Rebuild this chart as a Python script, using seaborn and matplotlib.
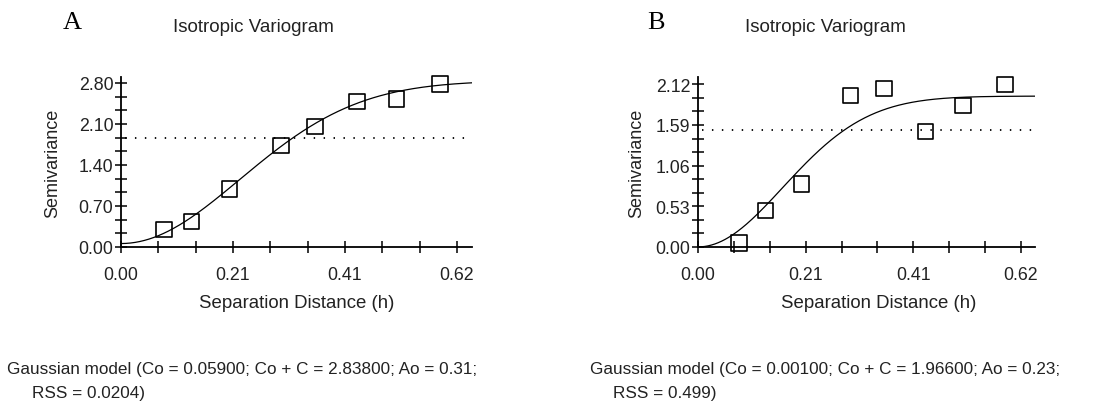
import matplotlib
matplotlib.use("Agg")
import matplotlib.pyplot as plt
import numpy as np
import pandas as pd
import seaborn as sns
from matplotlib.ticker import FixedLocator, FormatStrFormatter

# --- data ---
# panel A: experimental semivariogram
lag_a = [0.079, 0.130, 0.200, 0.295, 0.358, 0.436, 0.509, 0.589]
semi_a = [0.295, 0.438, 0.990, 1.730, 2.060, 2.480, 2.530, 2.780]
var_a = 1.855  # dotted line (sample variance)
# Gaussian model A (from the caption)
co_a, sill_a, ao_a = 0.05900, 2.83800, 0.31

# panel B
lag_b = [0.079, 0.130, 0.199, 0.293, 0.357, 0.437, 0.509, 0.589]
semi_b = [0.052, 0.478, 0.821, 1.971, 2.068, 1.507, 1.841, 2.120]
var_b = 1.528
co_b, sill_b, ao_b = 0.00100, 1.96600, 0.23

x_ticks = [0.00, 0.62 / 3, 2 * 0.62 / 3, 0.62]
y_ticks_a = [0.00, 0.70, 1.40, 2.10, 2.80]
y_ticks_b = [0.00, 0.53, 1.06, 1.59, 2.12]

captions = [
    ("Gaussian model (Co = 0.05900; Co + C = 2.83800; Ao = 0.31;", "RSS = 0.0204)"),
    ("Gaussian model (Co = 0.00100; Co + C = 1.96600; Ao = 0.23;", "RSS = 0.499)"),
]

sns.set_style("ticks")
plt.rcParams["font.family"] = ["Liberation Sans", "DejaVu Sans"]
plt.rcParams["text.color"] = "#222222"

W, H = 1103, 406
fig = plt.figure(figsize=(W / 100, H / 100), dpi=100)


def px_axes(left, right, top, bottom):
    return fig.add_axes([left / W, 1 - bottom / H, (right - left) / W, (bottom - top) / H])


def gaussian(h, co, sill, ao):
    return co + (sill - co) * (1 - np.exp(-(h ** 2) / ao ** 2))


def draw_panel(ax, lag, semi, var, co, sill, ao, yticks, xmax, ymax):
    h = np.linspace(0, xmax, 300)
    model = pd.DataFrame({"h": h, "g": gaussian(h, co, sill, ao)})
    pts = pd.DataFrame({"h": lag, "g": semi})
    sns.lineplot(data=model, x="h", y="g", ax=ax, color="black", lw=0.9)
    ax.plot([0.008, xmax], [var, var], color="black", lw=1.3, ls=(0, (0.8, 4.7)))
    sns.scatterplot(data=pts, x="h", y="g", ax=ax, marker="s", s=125,
                    facecolor="none", edgecolor="black", linewidth=1.2,
                    zorder=5, clip_on=False)
    ax.set_xlim(0, xmax)
    ax.set_ylim(0, ymax)
    ax.xaxis.set_major_locator(FixedLocator(x_ticks))
    ax.xaxis.set_minor_locator(FixedLocator(np.linspace(0, 0.62, 10)))
    ax.yaxis.set_major_locator(FixedLocator(yticks))
    ax.yaxis.set_minor_locator(FixedLocator(np.linspace(0, yticks[-1], 13)))
    ax.xaxis.set_major_formatter(FormatStrFormatter("%.2f"))
    ax.yaxis.set_major_formatter(FormatStrFormatter("%.2f"))
    ax.tick_params(which="both", direction="inout", length=9, width=1.1, color="black")
    ax.tick_params(axis="x", which="major", pad=9, labelsize=12.8, labelcolor="#222222")
    ax.tick_params(axis="y", which="major", pad=1, labelsize=12.8, labelcolor="#222222")
    for s in ["top", "right"]:
        ax.spines[s].set_visible(False)
    for s in ["left", "bottom"]:
        ax.spines[s].set_linewidth(1.3)
        ax.spines[s].set_color("black")
    ax.set_xlabel("")
    ax.set_ylabel("")


ax_a = px_axes(121, 472, 78, 248)
draw_panel(ax_a, lag_a, semi_a, var_a, co_a, sill_a, ao_a, y_ticks_a, 0.648, 2.902)
ax_b = px_axes(698, 1035, 78, 248)
draw_panel(ax_b, lag_b, semi_b, var_b, co_b, sill_b, ao_b, y_ticks_b, 0.647, 2.215)

# letters, titles, axis labels
for letter, lx, tx, xl, yl in [("A", 72, 253, 297, 53), ("B", 656, 825, 879, 637)]:
    fig.text(lx / W, 1 - 23 / H, letter, family=["Liberation Serif", "DejaVu Serif"],
             fontsize=19, ha="center", va="center", color="black")
    fig.text(tx / W, 1 - 27 / H, "Isotropic Variogram", fontsize=13.5,
             ha="center", va="center")
    fig.text(xl / W, 1 - 303 / H, "Separation Distance (h)", fontsize=13.4,
             ha="center", va="center")
    fig.text(yl / W, 1 - 163 / H, "Semivariance", fontsize=13,
             rotation=90, ha="center", va="center")

for (l1, l2), x1, x2 in zip(captions, [7, 590], [32, 613]):
    fig.text(x1 / W, 1 - 370 / H, l1, fontsize=12.3, ha="left", va="center")
    fig.text(x2 / W, 1 - 394 / H, l2, fontsize=12.3, ha="left", va="center")

fig.savefig("out.png", dpi=100)
